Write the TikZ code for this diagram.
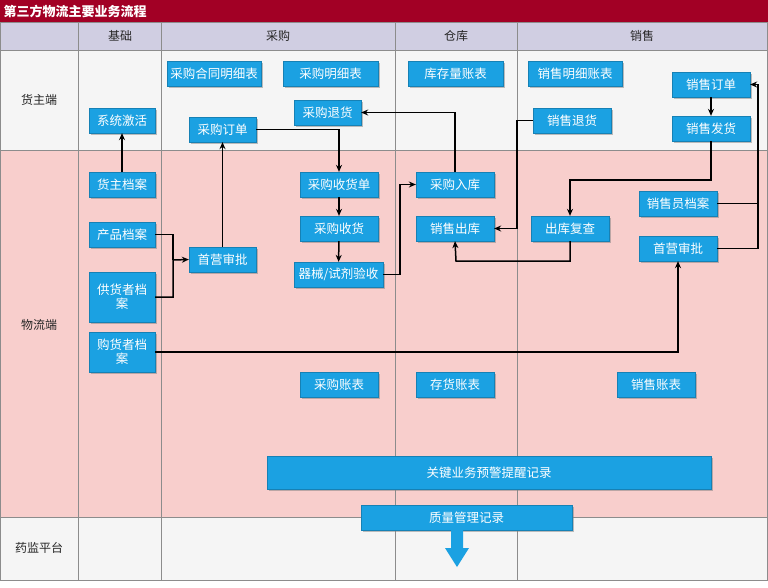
\documentclass[tikz,border=0pt]{standalone}
\usepackage{fontspec}
\setmainfont{Noto Sans CJK SC}
\usetikzlibrary{shadows,arrows.meta}
\definecolor{bblue}{HTML}{1BA1E2}
\definecolor{tred}{HTML}{A20025}
\definecolor{hdr}{HTML}{D0CEE2}
\definecolor{lgray}{HTML}{F5F5F5}
\definecolor{pinkbg}{HTML}{F8CECC}
\newcommand\bx[6]{\node[box,minimum width={(#4-#2)*1pt},minimum height={(#5-#3)*1pt}] (#1) at ({(#2+#4)/2},{(#3+#5)/2}) {#6};}
\begin{document}
\begin{tikzpicture}[x=1pt,y=-1pt,
 box/.style={fill=bblue,draw=bblue!80!black,line width=0.3pt,text=white,inner sep=0pt,align=center,
   font=\fontsize{12.5}{14}\selectfont,drop shadow={shadow xshift=1.5pt,shadow yshift=-1.5pt,fill=black!50,opacity=.5}},
 con/.style={line width=1.5pt,-{Stealth[length=7pt,width=6pt]}},
 lin/.style={line width=1.5pt},
 lbl/.style={font=\fontsize{12}{14}\selectfont,text=black!85}]
\useasboundingbox (0,0) rectangle (768,587);
\fill[white] (0,0) rectangle (768,587);
\fill[hdr] (0,22) rectangle (767,50);
\fill[lgray] (0,50) rectangle (767,150);
\fill[pinkbg] (0,150) rectangle (767,517);
\fill[lgray] (0,517) rectangle (767,580);
\draw[black!45,line width=0.7pt] (0,150)--(767,150) (0,517)--(767,517) (0,50)--(767,50);
\foreach \x in {78,161,395,517} \draw[black!45,line width=0.7pt] (\x,22)--(\x,580);
\draw[black!45,line width=0.7pt] (0,22) rectangle (767,580);
\fill[tred] (0,0) rectangle (768,22);
\node[anchor=west,text=white,font=\bfseries\fontsize{13}{14}\selectfont] (title) at (0,11) {第三方物流主要业务流程};
\node[lbl] (h1) at (120,36) {基础};
\node[lbl] (h2) at (278,36) {采购};
\node[lbl] (h3) at (456,36) {仓库};
\node[lbl] (h4) at (642,36) {销售};
\node[lbl] (r1) at (39,100) {货主端};
\node[lbl] (r2) at (39,325) {物流端};
\node[lbl] (r3) at (39,548) {药监平台};
\bx{cght}{167}{61}{261}{86}{采购合同明细表}
\bx{cgmx}{283}{61}{378}{86}{采购明细表}
\bx{kcl}{408}{61}{503}{86}{库存量账表}
\bx{xsmx}{528}{61}{622}{86}{销售明细账表}
\bx{xsdd}{672}{72}{750}{97}{销售订单}
\bx{xtjh}{89}{108}{155}{133}{系统激活}
\bx{cgdd}{189}{117}{256}{142}{采购订单}
\bx{cgth}{294}{100}{361}{125}{采购退货}
\bx{xsth}{533}{108}{611}{133}{销售退货}
\bx{xsfh}{672}{116}{750}{141}{销售发货}
\bx{hzda}{89}{172}{155}{197}{货主档案}
\bx{cgshd}{300}{172}{378}{197}{采购收货单}
\bx{cgrk}{416}{172}{494}{197}{采购入库}
\bx{xsyda}{639}{191}{717}{216}{销售员档案}
\bx{cpda}{89}{222}{155}{247}{产品档案}
\bx{cgsh}{300}{216}{378}{241}{采购收货}
\bx{xsck}{416}{216}{494}{241}{销售出库}
\bx{ckfc}{531}{216}{609}{241}{出库复查}
\bx{sysp}{189}{247}{256}{272}{首营审批}
\bx{sysp2}{639}{236}{717}{261}{首营审批}
\bx{qxys}{294}{262}{383}{287}{器械/试剂验收}
\bx{ghda}{89}{272}{155}{322}{供货者档\\案}
\bx{gouhda}{89}{332}{155}{372}{购货者档\\案}
\bx{cgzb}{300}{372}{378}{397}{采购账表}
\bx{chzb}{416}{372}{494}{397}{存货账表}
\bx{xszb}{617}{372}{695}{397}{销售账表}
\bx{gjyj}{267}{456}{711}{489}{关键业务预警提醒记录}
\bx{zlgl}{361}{505}{572}{530}{质量管理记录}
\fill[bblue] (451,530)--(463,530)--(463,548)--(469,548)--(457,567)--(445,548)--(451,548)--cycle;
\draw[con] (hzda)--(xtjh);
\draw[lin] (cpda.east)-|(173,260);
\draw[con] (ghda.east)-|(173,260)--(sysp.west);
\draw[con] (sysp)--(cgdd);
\draw[con] (cgdd.east)-|(cgshd.north);
\draw[con] (cgshd)--(cgsh);
\draw[con] (cgsh)--(qxys);
\draw[con] (qxys.east)-|(400,184.5)--(cgrk.west);
\draw[con] (cgrk.north)|-(cgth.east);
\draw[con] (xsth.west)-|(517,228.5)--(xsck.east);
\draw[con] (ckfc.south)|-(456,261)--(xsck.south);
\draw[con] (xsfh.south)|-(570,180)--(ckfc.north);
\draw[lin] (xsyda.east)-|(758,203);
\draw[con] (sysp2.east)-|(758,84.5)--(xsdd.east);
\draw[con] (xsdd)--(xsfh);
\draw[con] (gouhda.east)-|(sysp2.south);
\end{tikzpicture}
\end{document}
